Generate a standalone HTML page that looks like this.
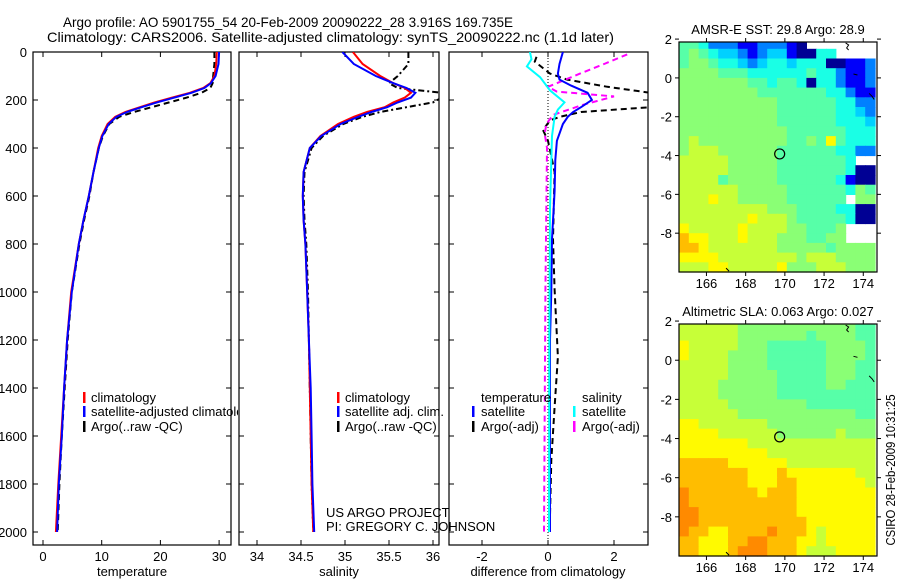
<!DOCTYPE html>
<html><head><meta charset="utf-8"><style>
html,body{margin:0;padding:0;background:#fff;}
svg{display:block;font-family:"Liberation Sans",sans-serif;}
</style></head><body>
<svg id="fig" width="900" height="580" viewBox="0 0 900 580" xmlns="http://www.w3.org/2000/svg">
<defs>
<clipPath id="c1"><rect x="33" y="52" width="198" height="493"/></clipPath>
<clipPath id="c2"><rect x="239" y="52" width="200" height="493"/></clipPath>
<clipPath id="c3"><rect x="449" y="52" width="199" height="493"/></clipPath>
<clipPath id="cleg1"><rect x="33" y="52" width="205" height="493"/></clipPath>
</defs>
<text x="63" y="27" font-size="14" textLength="450" lengthAdjust="spacingAndGlyphs">Argo profile: AO 5901755_54 20-Feb-2009 20090222_28 3.916S 169.735E</text>
<text x="47" y="42" font-size="14" textLength="567" lengthAdjust="spacingAndGlyphs">Climatology: CARS2006. Satellite-adjusted climatology: synTS_20090222.nc (1.1d later)</text>
<g id="p1"></g>
<g id="p2"></g>
<g id="p3"></g>
<g id="m1"></g>
<g id="m2"></g>
<text transform="translate(895,470) rotate(-90)" font-size="13" text-anchor="middle" textLength="151" lengthAdjust="spacingAndGlyphs">CSIRO 28-Feb-2009 10:31:25</text>
</svg>
<script>
const NS="http://www.w3.org/2000/svg";
// ---- data ----
const depths=[0,50,100,130,150,170,190,210,230,250,270,300,350,400,500,600,700,800,1000,1200,1400,1600,1800,2000];
const tempClim=[29.6,29.5,29.2,28.5,27.3,25,22,19,16.5,14,12.3,11,10,9.4,8.6,7.8,6.9,6.1,4.8,4.1,3.6,3.1,2.6,2.2];
const tempSat=[30.0,29.9,29.4,28.6,27.5,25.3,22.4,19.4,16.8,14.3,12.5,11.2,10.1,9.5,8.6,7.8,6.9,6.1,4.9,4.1,3.6,3.2,2.7,2.4];
const tempArgo=[29.2,29.2,29.0,28.9,28.5,27,24.5,21.5,18.5,15.5,13,11.3,10.2,9.5,8.6,7.9,7,6.2,4.9,4.2,3.7,3.2,2.8,2.5];
const salClim=[35.09,35.2,35.4,35.55,35.68,35.75,35.68,35.55,35.45,35.25,35.1,34.92,34.72,34.6,34.53,34.52,34.53,34.55,34.57,34.59,34.6,34.61,34.62,34.64];
const salSat=[34.97,35.1,35.35,35.55,35.7,35.8,35.75,35.6,35.48,35.3,35.15,34.95,34.73,34.6,34.53,34.52,34.53,34.55,34.57,34.59,34.61,34.62,34.63,34.65];
const salArgo=[35.72,35.72,35.6,35.5,35.6,36.1,36.1,36.0,35.7,35.4,35.2,34.98,34.75,34.62,34.54,34.53,34.54,34.56,34.58,34.59,34.6,34.61,34.62,34.64];
const dTempSatZ=[0,50,90,115,140,170,200,230,250,270,300,370,450,580,780,1000,1200,1500,2000];
const dTempSat=[0.45,0.35,0.3,0.35,0.7,1.2,1.33,1.0,0.76,0.6,0.45,0.27,0.22,0.2,0.12,0.1,0.06,0.06,0.06];
const dSalSatZ=[0,30,60,105,160,210,240,270,350,650,1200,2000];
const dSalSat=[-0.55,-0.5,-0.64,-0.24,0.06,0.5,0.3,0.2,0.12,0.06,0.04,0.03];
const dTempArgoZ=[20,40,90,115,145,170,200,230,250,270,285,325,370,500,780,990,1270,1480,1700,2000];
const dTempArgo=[-0.35,-0.4,0.06,0.58,1.8,3.1,3.3,3.1,1.0,0.36,0.06,-0.15,0.0,0.2,0.15,0.2,0.3,0.2,0.1,0.05];
const dSalArgoZ=[10,50,90,145,165,185,220,262,300,340,400,1000,2000];
const dSalArgo=[2.4,1.7,0.97,0.0,0.27,2.0,1.06,0.15,-0.05,-0.1,-0.03,-0.08,-0.12];
const depthTicks=[0,200,400,600,800,1000,1200,1400,1600,1800,2000];
const tempTicks=[0,10,20,30];
const salTicks=[34,34.5,35,35.5,36];
const diffTicks=[-2,0,2];
const lonTicks=[166,168,170,172,174];
const latTicks=[2,0,-2,-4,-6,-8];
// SST grid rows (lat 2 -> -10, 0.5 deg), cols lon 164.6 -> 174.6; '.' = missing
const sstRows=["5542221122210.......","5654332123310044....","56654432344344400112","66665554444445442112","66666665545540442112","66666666555555544211","66666666665555554422","66666666665555554432","66666666665555554443","66666666666555555444","67666666666556585444","67776666665555554422","777776666655555554..","77777666665555555400","77775666665555554100","77777766666555555465","77787766666555555.66","77777777766655554400","77777778777655555400","87777787777665556...","98877787776665566...","99877777776666656666","88887777777767776666","77788777778666777666"];
const slaRows=["77777766666666666655","77777766666665666655","87777766655555566665","87777666655555566665","77777666655555566655","77777666665555566655","77776666665555566555","77776666665555555555","77777666666665555555","77777766666666666655","88777777766666666666","88887777776666667666","88888887777777777777","88888888877777777777","99999888888777777777","99999998889888888877","99999998889988888887","a9999999899988888888","a9999999999988888888","aa999999999988888888","aa999999999998888888","a99889999a9998788888","9988899aa99988788888","998889aaa99987778888"];
const argoLon=169.735, argoLat=-3.916;

// ---- helpers ----
function el(tag,attrs,parent){const e=document.createElementNS(NS,tag);for(const k in attrs)e.setAttribute(k,attrs[k]);parent.appendChild(e);return e;}
const Y0=52, PY=0.24;
const yD=d=>Y0+d*PY;
const xT=t=>43+5.87*t;
const xS=s=>257+88*(s-34);
const xDf=v=>548+33*v;

function txt(g,x,y,s,name,anchor){
  const t=el('text',{x:x,y:y,'font-size':13},g);
  if(anchor)t.setAttribute('text-anchor',anchor);
  t.textContent=s;
  
  
  return t;
}
function frame(g,x0,w,ticksX,fx,name){
  const bg=el('rect',{x:x0,y:52,width:w,height:493,fill:'#fff',stroke:'#000','stroke-width':1.2},g);
  
  
  depthTicks.forEach(d=>{
    el('line',{x1:x0,x2:x0+5,y1:yD(d),y2:yD(d),stroke:'#000'},g);
    el('line',{x1:x0+w-5,x2:x0+w,y1:yD(d),y2:yD(d),stroke:'#000'},g);
  });
  ticksX.forEach(t=>{
    const x=fx(t);
    el('line',{x1:x,x2:x,y1:52,y2:57,stroke:'#000'},g);
    el('line',{x1:x,x2:x,y1:540,y2:545,stroke:'#000'},g);
    txt(g,x,561,String(t),name+'-x-tick-label','middle');
  });
}
function line(g,vals,zs,fx,color,dash,clip,name){
  const pts=vals.map((v,i)=>fx(v).toFixed(1)+','+yD(zs[i]).toFixed(1)).join(' ');
  const p=el('polyline',{points:pts,fill:'none',stroke:color,'stroke-width':2,'clip-path':'url(#'+clip+')'},g);
  if(dash)p.setAttribute('stroke-dasharray',dash);
  
  
}
function legMark(g,x,y,color){el('rect',{x:x,y:y-10,width:2.5,height:11,fill:color},g);}

// ---- panel 1 ----
const p1=document.getElementById('p1');
frame(p1,33,198,tempTicks,xT,'temperature');
depthTicks.forEach(d=>{txt(p1,27,yD(d)+5,String(d),'depth-tick-label','end');});
line(p1,tempArgo,depths,xT,'#000','6,4','c1','temp-argo-line');
line(p1,tempClim,depths,xT,'#f00',null,'c1','temp-climatology-line');
line(p1,tempSat,depths,xT,'#00f',null,'c1','temp-satellite-line');
legMark(p1,83,402,'#f00');legMark(p1,83,416,'#00f');legMark(p1,83,431,'#000');
txt(p1,91,402,'climatology','legend-entry-climatology');
const sl=txt(p1,91,416,'satellite-adjusted climatology','legend-entry-satellite-adjusted');
sl.setAttribute('clip-path','url(#cleg1)');
txt(p1,91,431,'Argo(..raw -QC)','legend-entry-argo');
txt(p1,132,576,'temperature','x-axis-title-temperature','middle');

// ---- panel 2 ----
const p2=document.getElementById('p2');
frame(p2,239,200,salTicks,xS,'salinity');
line(p2,salArgo,depths,xS,'#000','6,3,2,3','c2','sal-argo-line');
line(p2,salClim,depths,xS,'#f00',null,'c2','sal-climatology-line');
line(p2,salSat,depths,xS,'#00f',null,'c2','sal-satellite-line');
legMark(p2,337,402,'#f00');legMark(p2,337,416,'#00f');legMark(p2,337,431,'#000');
txt(p2,345,402,'climatology','legend-entry-climatology');
txt(p2,345,416,'satellite adj. clim.','legend-entry-satellite-adj');
txt(p2,345,431,'Argo(..raw -QC)','legend-entry-argo');
txt(p2,339,576,'salinity','x-axis-title-salinity','middle');

// ---- panel 3 ----
const p3=document.getElementById('p3');
frame(p3,449,199,diffTicks,xDf,'difference');
el('line',{x1:xDf(0),x2:xDf(0),y1:52,y2:545,stroke:'#000','stroke-dasharray':'1,2'},p3);
line(p3,dTempArgo,dTempArgoZ,xDf,'#000','6,4','c3','diff-temp-argo-line');
line(p3,dSalArgo,dSalArgoZ,xDf,'#f0f','6,4','c3','diff-sal-argo-line');
line(p3,dTempSat,dTempSatZ,xDf,'#00f',null,'c3','diff-temp-satellite-line');
line(p3,dSalSat,dSalSatZ,xDf,'#0ff',null,'c3','diff-sal-satellite-line');
txt(p3,481,402,'temperature','legend-heading-temperature');
legMark(p3,472,416,'#00f');legMark(p3,472,431,'#000');
txt(p3,481,416,'satellite','legend-entry-temp-satellite');
txt(p3,481,431,'Argo(-adj)','legend-entry-temp-argo');
txt(p3,582,402,'salinity','legend-heading-salinity');
legMark(p3,573,416,'#0ff');legMark(p3,573,431,'#f0f');
txt(p3,582,416,'satellite','legend-entry-sal-satellite');
txt(p3,582,431,'Argo(-adj)','legend-entry-sal-argo');
txt(p3,548,576,'difference from climatology','x-axis-title-difference','middle');
txt(p3,326,517,'US ARGO PROJECT','project-label');
txt(p3,326,531,'PI: GREGORY C. JOHNSON','pi-label');

// ---- maps ----
function jet(v){
  const c=x=>Math.max(0,Math.min(1,x));
  const r=c(1.5-Math.abs(4*v-3)),g=c(1.5-Math.abs(4*v-2)),b=c(1.5-Math.abs(4*v-1));
  return 'rgb('+Math.round(r*255)+','+Math.round(g*255)+','+Math.round(b*255)+')';
}
const levels={'0':0.02,'1':0.12,'2':0.25,'3':0.33,'4':0.40,'5':0.46,'6':0.51,'7':0.57,'8':0.63,'9':0.69,'a':0.74};
function drawMap(g,top,bottom,rows,title,name){
  const left=679,right=877;
  const lon0=164.6,lon1=174.7,lat0=1.85,lat1=-10.0;
  const xL=l=>left+(l-lon0)/(lon1-lon0)*(right-left);
  const yL=l=>top+(lat0-l)/(lat0-lat1)*(bottom-top);
  rows.forEach((row,i)=>{
    [...row].forEach((ch,j)=>{
      if(ch==='.')return;
      const la=2-0.5*i, lo=lon0+0.5*j;
      const x1=xL(lo),x2=xL(lo+0.5),y1=Math.max(top,yL(la)),y2=Math.min(bottom,yL(la-0.5));
      if(y2<=y1)return;
      const r=el('rect',{x:x1.toFixed(1),y:y1.toFixed(1),width:(x2-x1+0.6).toFixed(1),height:(y2-y1+0.6).toFixed(1),fill:jet(levels[ch])},g);
      
      
    });
  });
  const f=el('rect',{x:left,y:top,width:right-left,height:bottom-top,fill:'none',stroke:'#000','stroke-width':1.2},g);
  
  
  lonTicks.forEach(l=>{const x=xL(l);
    el('line',{x1:x,x2:x,y1:top-4,y2:top,stroke:'#000'},g);
    el('line',{x1:x,x2:x,y1:bottom,y2:bottom+4,stroke:'#000'},g);
    txt(g,x,bottom+16,String(l),name+'-lon-label','middle');});
  latTicks.forEach(l=>{const y=yL(l);
    el('line',{x1:left-4,x2:left,y1:y,y2:y,stroke:'#000'},g);
    el('line',{x1:right,x2:right+4,y1:y,y2:y,stroke:'#000'},g);
    txt(g,672,y+5,String(l),name+'-lat-label','end');});
  const c=el('circle',{cx:xL(argoLon),cy:yL(argoLat),r:5,fill:'none',stroke:'#000','stroke-width':1.2},g);
  
  
  el('path',{d:'M'+xL(173.1)+' '+yL(1.8)+' l3 2 l-2 3 l2 2 M'+xL(173.5)+' '+yL(0.2)+' l4 1 M'+xL(174.3)+' '+yL(-0.8)+' l3 3 l2 3 M'+xL(167)+' '+yL(-9.8)+' l3 3',stroke:'#000',fill:'none'},g);
  const t=txt(g,778,top-8,title,name+'-title','middle');
  return t;
}
drawMap(document.getElementById('m1'),42,272,sstRows,'AMSR-E SST: 29.8 Argo: 28.9','sst-map');
drawMap(document.getElementById('m2'),324,556,slaRows,'Altimetric SLA: 0.063 Argo: 0.027','sla-map');
</script>
</body></html>
